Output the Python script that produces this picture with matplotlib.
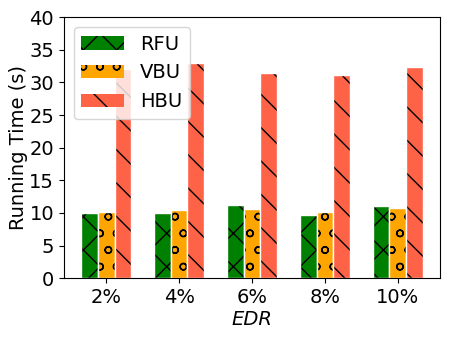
import matplotlib
matplotlib.use("Agg")
import matplotlib.pyplot as plt
import numpy as np

categories = ["2%", "4%", "6%", "8%", "10%"]
rfu = [10.0, 10.0, 11.2, 9.7, 11.0]
vbu = [10.2, 10.5, 10.6, 10.1, 10.8]
hbu = [32.0, 33.0, 31.4, 31.2, 32.4]

plt.rcParams['font.size'] = 14
plt.rcParams['hatch.linewidth'] = 1.0

fig, ax = plt.subplots(figsize=(4.5, 3.38), dpi=100)
x = np.arange(len(categories))
w = 0.23
series = [(rfu, 'green', 'x', 'RFU'), (vbu, 'orange', 'o', 'VBU'), (hbu, 'tomato', '\\', 'HBU')]
for i, (vals, c, h, lab) in enumerate(series):
    pos = x + (i - 1) * w
    ax.bar(pos, vals, w, color=c, hatch=h, edgecolor='black', linewidth=0, label=lab)
    ax.bar(pos, vals, w, fill=False, edgecolor='white', linewidth=1.0)

ax.set_xticks(x)
ax.set_xticklabels(categories)
ax.set_ylim(0, 40)
ax.set_yticks(range(0, 41, 5))
ax.set_xlabel('EDR', style='italic', labelpad=2)
ax.set_ylabel('Running Time (s)', labelpad=1)
ax.legend(loc='upper left', handlelength=2.2)
fig.subplots_adjust(left=0.142, right=0.978, top=0.949, bottom=0.177)
fig.savefig('out.png', dpi=100)
